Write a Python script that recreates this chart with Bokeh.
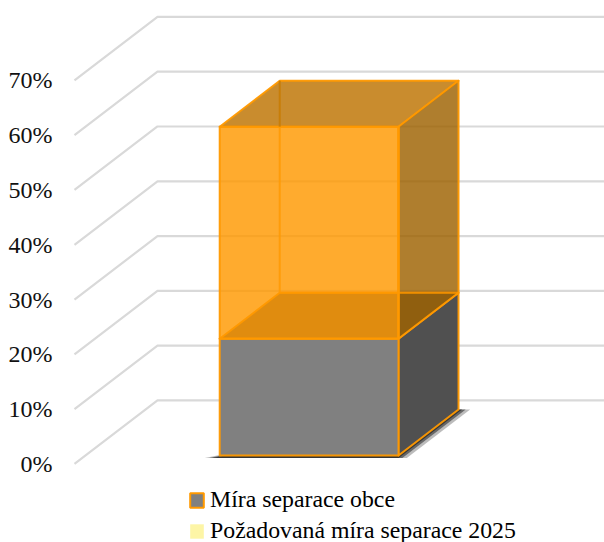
from bokeh.embed import file_html
from bokeh.resources import INLINE
from bokeh.plotting import figure
from bokeh.models import FixedTicker, Legend, LegendItem, ColumnDataSource

# ---- data ----
tick_values = [0, 10, 20, 30, 40, 50, 60, 70]
tick_labels = ["0%", "10%", "20%", "30%", "40%", "50%", "60%", "70%"]
series_names = ["Míra separace obce", "Požadovaná míra separace 2025"]
measured = [21.3]
required_extra = [38.7]

# ---- oblique projection of the 3D chart space ----
DEPTH_X = 0.1857   # category units per full depth
DEPTH_Y = 11.59    # percent units per full depth
BAR_L, BAR_R = 0.3, 0.7
D_FRONT, D_BACK = 0.134, 0.857

def P(u, v, d):
    return (u + DEPTH_X * d, v + DEPTH_Y * d)

def face(*pts):
    xy = [P(*pt) for pt in pts]
    return [a for a, _ in xy], [b for _, b in xy]

W, H = 604, 542
p = figure(width=W, height=H, output_backend="svg", toolbar_location=None,
           x_range=(-0.0268, 1.1857), y_range=(-14.33, 84.58),
           min_border_left=62, min_border_right=0, min_border_top=0, min_border_bottom=0,
           x_axis_location=None,
           styles={"margin-right": "-8px", "margin-bottom": "-8px"})
p.grid.visible = False
p.outline_line_color = None
p.background_fill_color = "white"

ax = p.yaxis[0]
ax.ticker = FixedTicker(ticks=tick_values)
ax.major_label_overrides = {t: s for t, s in zip(tick_values, tick_labels)}
ax.axis_line_color = None
ax.major_tick_line_color = None
ax.minor_tick_line_color = None
ax.major_tick_out = 0
ax.major_tick_in = 0
ax.major_label_standoff = 10
ax.major_label_text_font = "Liberation Serif"
ax.major_label_text_font_size = "24px"
ax.major_label_text_color = "#111111"

# wall gridlines
gx, gy = [], []
for t in tick_values:
    a, b = face((0, t, 0), (0, t, 1), (1, t, 1))
    gx.append(a); gy.append(b)
p.multi_line(gx, gy, line_color="#d9d9d9", line_width=2.2)

v1 = measured[0]
v2 = measured[0] + required_extra[0]
ORANGE = "#FF9900"

# floor shadow
for grow, alpha in ((0.026, 0.3), (0.016, 0.55), (0.008, 0.7)):
    a, b = face((BAR_L - grow, 0, D_FRONT - 0.04), (BAR_R + grow, 0, D_FRONT - 0.04),
                (BAR_R + grow, 0, D_BACK), (BAR_R - 0.02, 0, D_BACK))
    p.patch(a, b, fill_color="#222222", fill_alpha=alpha, line_color=None)

def solid(pts, fill, alpha=1.0):
    a, b = face(*pts)
    p.patch(a, b, fill_color=fill, fill_alpha=alpha, line_color=ORANGE, line_width=2, line_alpha=0.95,
            line_join="round")

# lower bar (opaque)
solid([(BAR_L, v1, D_FRONT), (BAR_R, v1, D_FRONT), (BAR_R, v1, D_BACK), (BAR_L, v1, D_BACK)], "#555555")
solid([(BAR_R, 0, D_FRONT), (BAR_R, 0, D_BACK), (BAR_R, v1, D_BACK), (BAR_R, v1, D_FRONT)], "#505050")
solid([(BAR_L, 0, D_FRONT), (BAR_R, 0, D_FRONT), (BAR_R, v1, D_FRONT), (BAR_L, v1, D_FRONT)], "#808080")

# upper bar (translucent)
solid([(BAR_L, v2, D_FRONT), (BAR_R, v2, D_FRONT), (BAR_R, v2, D_BACK), (BAR_L, v2, D_BACK)], "#BD7300", 0.82)
solid([(BAR_R, v1, D_FRONT), (BAR_R, v1, D_BACK), (BAR_R, v2, D_BACK), (BAR_R, v2, D_FRONT)], "#9E6200", 0.82)
solid([(BAR_L, v1, D_FRONT), (BAR_R, v1, D_FRONT), (BAR_R, v2, D_FRONT), (BAR_L, v2, D_FRONT)], ORANGE, 0.82)

# hidden edges seen through the translucent faces
hide = DEPTH_Y * (D_BACK - D_FRONT)
a, b = face((BAR_L, v2, D_BACK), (BAR_L, v2 - hide, D_BACK))
p.line(a, b, line_color="#C87E08", line_width=2)
a, b = face((BAR_L, v2 - hide, D_BACK), (BAR_L, v1, D_BACK), (BAR_R, v1, D_BACK))
p.line(a, b, line_color=ORANGE, line_width=2, line_alpha=0.8)
a, b = face((BAR_R, v1, D_FRONT), (BAR_R, v2, D_FRONT))
p.line(a, b, line_color=ORANGE, line_width=2)

# legend (keys only: their rows lie outside the visible ranges)
nan = float("nan")
src = ColumnDataSource(dict(l=[nan], r=[nan], t=[nan], b=[nan]))
r1 = p.quad(left="l", right="r", top="t", bottom="b", source=src, fill_color="#808080",
            line_color=ORANGE, line_width=2)
r2 = p.quad(left="l", right="r", top="t", bottom="b", source=src, fill_color="#FDF5A6", line_color=None)
legend = Legend(items=[LegendItem(label=series_names[0], renderers=[r1]),
                       LegendItem(label=series_names[1], renderers=[r2])],
                location=(126, -2), orientation="vertical",
                background_fill_alpha=0, border_line_color=None,
                padding=0, margin=0, spacing=4, glyph_width=17, glyph_height=18,
                label_standoff=5, label_height=24,
                label_text_font="Liberation Serif", label_text_font_size="23.8px",
                label_text_color="#000000", label_text_baseline="middle")
p.add_layout(legend)

open("out.html", "w").write(file_html(p, INLINE))
